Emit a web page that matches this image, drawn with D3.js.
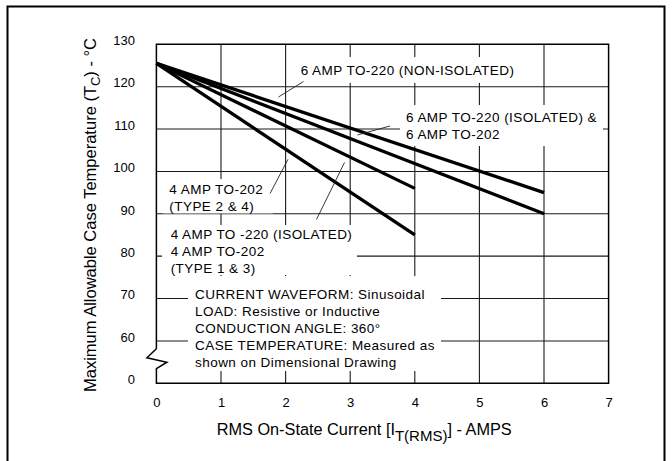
<!DOCTYPE html>
<html>
<head>
<meta charset="utf-8">
<script src="https://cdn.jsdelivr.net/npm/d3@7"></script>
<style>
  html, body { margin: 0; padding: 0; background: #fff; }
  svg { display: block; font-family: "Liberation Sans", Arial, Helvetica, sans-serif; }
</style>
</head>
<body>
<svg id="chart" width="672" height="461"></svg>
<script>
// ---- data ---------------------------------------------------------------
const currentTicks = [0, 1, 2, 3, 4, 5, 6, 7];                    // A (RMS)
const tempTicks = [50, 60, 70, 80, 90, 100, 110, 120, 130];       // axis positions
const tempTickLabels = ["0", "60", "70", "80", "90", "100", "110", "120", "130"];

const seriesNames = [
  "6 AMP TO-220 (NON-ISOLATED)",
  "6 AMP TO-220 (ISOLATED) & 6 AMP TO-202",
  "4 AMP TO -220 (ISOLATED) / 4 AMP TO-202 (TYPE 1 & 3)",
  "4 AMP TO-202 (TYPE 2 & 4)"
];
const seriesCurrent = [[0, 6], [0, 6], [0, 4], [0, 4]];
const seriesTemp    = [[125.5, 95], [125.5, 90], [125.5, 96], [125.5, 85]];

const noteLines = [
  "CURRENT WAVEFORM: Sinusoidal",
  "LOAD: Resistive or Inductive",
  "CONDUCTION ANGLE: 360°",
  "CASE TEMPERATURE: Measured as",
  "shown on Dimensional Drawing"
];

// ---- layout -------------------------------------------------------------
const plot = { left: 156.4, right: 608.6, top: 44.3, bottom: 383.3 };
const x = d3.scaleLinear().domain([0, 7]).range([plot.left, plot.right]);
const y = d3.scaleLinear().domain([50, 130]).range([plot.bottom, plot.top]);

// callouts: text anchor / leader line / white knockout, in amps and °C
const callouts = [
  { lines: ["6 AMP TO-220 (NON-ISOLATED)"], at: [2.234, 122.8],
    leader: [[1.89, 117.56], [2.277, 121.22]], box: [2.145, 5.706, 127.0, 120.9] },
  { lines: ["6 AMP TO-220 (ISOLATED) &", "6 AMP TO-202"], at: [3.864, 111.6],
    leader: [[3.113, 108.6], [3.616, 110.72]], box: [3.771, 6.913, 115.67, 106.0] },
  { lines: ["4 AMP TO-202", "(TYPE 2 & 4)"], at: [0.2, 94.67],
    leader: [[1.759, 94.79], [2.037, 102.86]], box: [0.102, 1.80, 98.2, 90.1] },
  { lines: ["4 AMP TO -220 (ISOLATED)", "4 AMP TO-202", "(TYPE 1 & 3)"], at: [0.221, 83.95],
    leader: [[2.478, 88.66], [2.912, 102.1]], box: [0.087, 3.105, 87.35, 75.55] },
  { lines: noteLines, at: [0.598, 70.0], leader: null, box: [0.489, 4.405, 75.3, 52.9] }
];
const lineStep = 17;

const svg = d3.select("#chart");

// outer border
svg.append("path")
  .attr("d", "M7.5,470V6.5H664.5V470")
  .attr("fill", "none").attr("stroke", "#000").attr("stroke-width", 2);

// grid
const grid = svg.append("g").attr("stroke", "#1a1a1a").attr("stroke-width", 1.1);
grid.selectAll("line.v").data(currentTicks.slice(1, -1)).join("line")
  .attr("x1", d => x(d)).attr("x2", d => x(d))
  .attr("y1", y(130)).attr("y2", y(50));
grid.selectAll("line.h").data(tempTicks.slice(1, -1)).join("line")
  .attr("x1", x(0)).attr("x2", x(7))
  .attr("y1", d => y(d)).attr("y2", d => y(d));

// white knockouts behind the callout text
svg.append("g").selectAll("rect").data(callouts).join("rect")
  .attr("x", d => x(d.box[0])).attr("width", d => x(d.box[1]) - x(d.box[0]))
  .attr("y", d => y(d.box[2])).attr("height", d => y(d.box[3]) - y(d.box[2]))
  .attr("fill", "#fff");

// frame with the axis break between 0 and 60
const yb = y(55.8), x0 = x(0);
svg.append("path")
  .attr("d", `M${x0},${yb - 10}V${y(130)}H${x(7)}V${y(50)}H${x0}V${yb + 10}` +
             `L${x0 + 10.5},${yb + 3.5}L${x0 - 9.5},${yb - 1}L${x0},${yb - 10}`)
  .attr("fill", "none").attr("stroke", "#000").attr("stroke-width", 1.5)
  .attr("stroke-linejoin", "miter");

// derating curves
const line = d3.line().x(d => x(d[0])).y(d => y(d[1]));
svg.append("g").selectAll("path").data(seriesNames).join("path")
  .attr("d", (n, i) => line(seriesCurrent[i].map((c, k) => [c, seriesTemp[i][k]])))
  .attr("fill", "none").attr("stroke", "#000").attr("stroke-width", 3.3)
  .attr("stroke-linecap", "butt");

// leader lines
svg.append("g").selectAll("line").data(callouts.filter(c => c.leader)).join("line")
  .attr("x1", d => x(d.leader[0][0])).attr("y1", d => y(d.leader[0][1]))
  .attr("x2", d => x(d.leader[1][0])).attr("y2", d => y(d.leader[1][1]))
  .attr("stroke", "#222").attr("stroke-width", 0.9);

// callout text
callouts.forEach(c => {
  const t = svg.append("text")
    .attr("x", x(c.at[0])).attr("y", y(c.at[1]))
    .attr("font-size", 13.5).attr("letter-spacing", 0.45).attr("fill", "#000");
  c.lines.forEach((s, i) => {
    t.append("tspan").attr("x", x(c.at[0])).attr("dy", i === 0 ? 0 : lineStep).text(s);
  });
});

// axes
const xAxis = d3.axisBottom(x).tickValues(currentTicks).tickFormat(d3.format("d"))
  .tickSize(0).tickPadding(14.2);
const gx = svg.append("g").attr("transform", `translate(0,${plot.bottom})`).call(xAxis);
gx.select(".domain").remove();
gx.selectAll("text").attr("font-size", 13).attr("font-family", null).attr("fill", "#000");

const yAxis = d3.axisLeft(y).tickValues(tempTicks)
  .tickFormat((d, i) => tempTickLabels[i]).tickSize(0).tickPadding(21.4);
const gy = svg.append("g").attr("transform", `translate(${plot.left},0)`).call(yAxis);
gy.select(".domain").remove();
gy.selectAll("text").attr("font-size", 13).attr("font-family", null)
  .attr("dy", "0.02em").attr("fill", "#000");

// axis titles
const xt = svg.append("text").attr("x", 216.7).attr("y", 435)
  .attr("font-size", 16.3).attr("fill", "#000");
xt.append("tspan").text("RMS On-State Current [I");
xt.append("tspan").attr("dy", 6).attr("font-size", 15).text("T(RMS)");
xt.append("tspan").attr("dy", -6).text("] - AMPS");

const yt = svg.append("text").attr("transform", "translate(96,215) rotate(-90)")
  .attr("text-anchor", "middle").attr("font-size", 16.5).attr("fill", "#000");
yt.append("tspan").text("Maximum Allowable Case Temperature (T");
yt.append("tspan").attr("dy", 4).attr("font-size", 13).text("C");
yt.append("tspan").attr("dy", -4).text(") - °C");
</script>
</body>
</html>
